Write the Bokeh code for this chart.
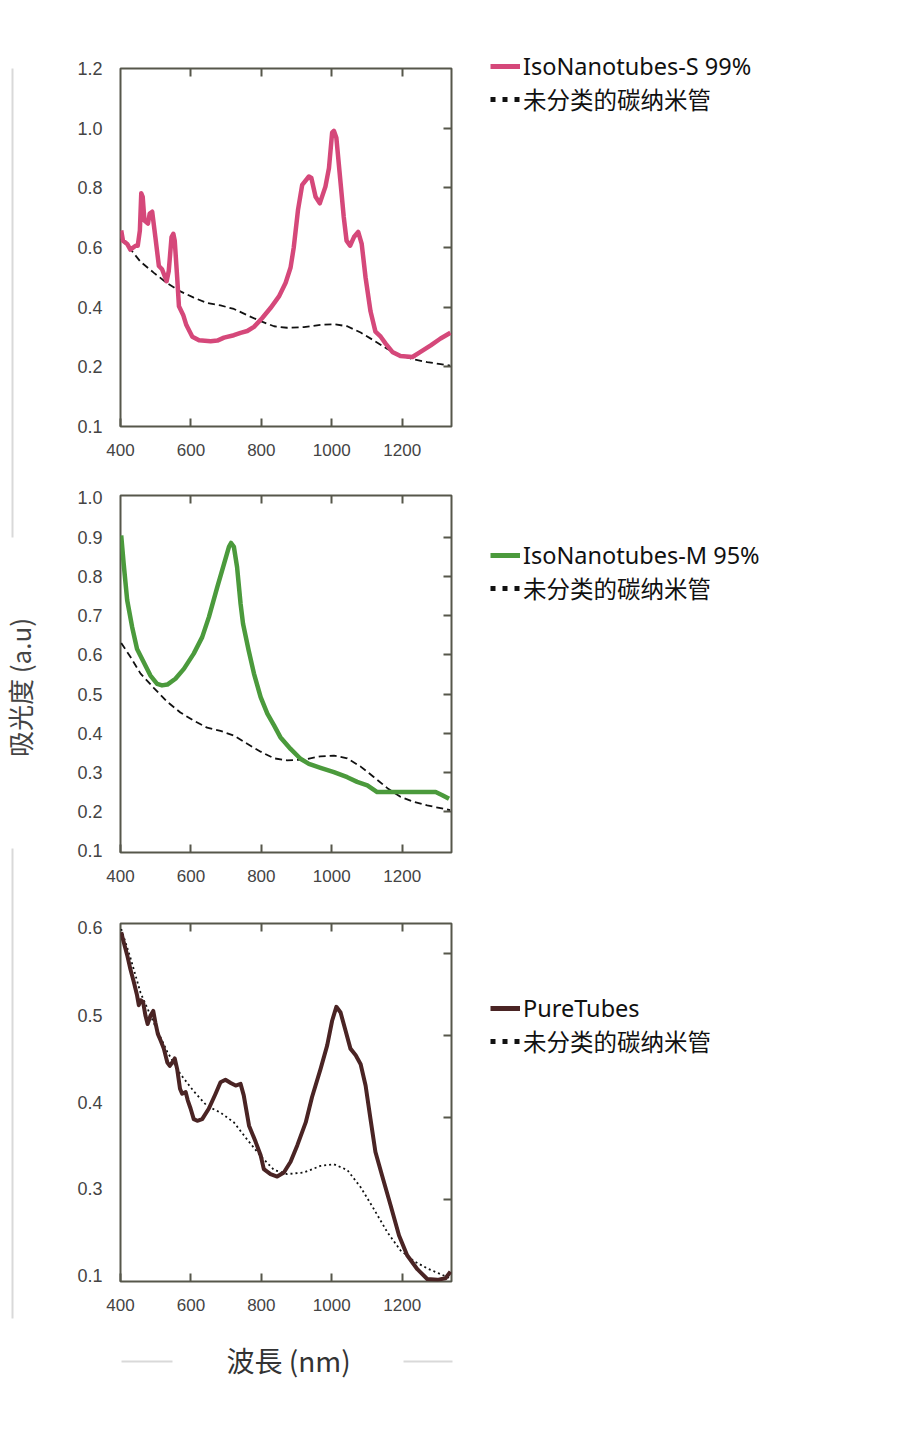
from math import pi
from bokeh.plotting import figure
from bokeh.models import Range1d, LinearAxis, FixedTicker, Legend, LegendItem, Label
from bokeh.layouts import row, column
from bokeh.embed import file_html
from bokeh.resources import INLINE

# spectra: wavelength (nm) / absorbance (a.u)
s99_nm = [402, 407, 419, 428, 443, 449, 455, 459, 463, 468, 478, 483, 490, 499, 509, 518, 531, 537, 545, 550,
          554, 561, 566, 578, 587, 604, 623, 656, 675, 694, 722, 741, 760, 779, 802, 826, 850, 869, 883, 892,
          904, 916, 935, 942, 954, 966, 982, 992, 1001, 1006, 1013, 1025, 1034, 1042, 1052, 1063, 1075, 1085, 1096, 1110,
          1124, 1139, 1153, 1172, 1195, 1229, 1252, 1281, 1309, 1337]
s99_abs = [0.657, 0.623, 0.612, 0.593, 0.606, 0.606, 0.657, 0.782, 0.770, 0.690, 0.680, 0.714, 0.720, 0.635, 0.538, 0.527, 0.487, 0.521, 0.635, 0.646,
           0.623, 0.499, 0.403, 0.374, 0.340, 0.301, 0.289, 0.286, 0.288, 0.298, 0.306, 0.314, 0.320, 0.334, 0.363, 0.397, 0.436, 0.482, 0.533, 0.600,
           0.725, 0.810, 0.838, 0.833, 0.770, 0.748, 0.804, 0.866, 0.985, 0.991, 0.968, 0.816, 0.702, 0.623, 0.606, 0.635, 0.652, 0.612, 0.499, 0.386,
           0.318, 0.301, 0.278, 0.250, 0.236, 0.233, 0.250, 0.272, 0.295, 0.314]

m95_nm = [402, 409, 419, 433, 447, 466, 485, 504, 518, 533, 556, 580, 608, 632, 651, 675, 694, 708, 714, 722,
          731, 741, 748, 764, 779, 798, 817, 836, 854, 883, 911, 935, 968, 1006, 1044, 1072, 1101, 1129, 1176, 1233,
          1295, 1314, 1333]
m95_abs = [0.904, 0.832, 0.739, 0.671, 0.615, 0.581, 0.547, 0.526, 0.522, 0.524, 0.539, 0.564, 0.603, 0.645, 0.696, 0.773, 0.832, 0.875, 0.885, 0.875,
           0.824, 0.730, 0.679, 0.611, 0.552, 0.492, 0.450, 0.420, 0.390, 0.360, 0.335, 0.322, 0.312, 0.301, 0.288, 0.276, 0.267, 0.250, 0.250, 0.250,
           0.250, 0.242, 0.233]

pure_nm = [402, 409, 419, 428, 438, 447, 452, 457, 464, 471, 477, 485, 493, 499, 506, 514, 523, 533, 540, 547,
           554, 561, 569, 575, 585, 591, 599, 608, 618, 632, 651, 670, 684, 698, 713, 727, 741, 750, 765, 784,
           798, 807, 826, 845, 864, 883, 902, 926, 944, 968, 987, 1001, 1013, 1025, 1039, 1053, 1068, 1082, 1096, 1110,
           1124, 1143, 1167, 1191, 1214, 1243, 1271, 1300, 1323, 1337]
pure_abs = [0.626, 0.614, 0.598, 0.581, 0.565, 0.549, 0.537, 0.543, 0.541, 0.524, 0.514, 0.524, 0.530, 0.516, 0.502, 0.494, 0.484, 0.467, 0.463, 0.467,
            0.472, 0.459, 0.435, 0.429, 0.431, 0.421, 0.411, 0.398, 0.396, 0.398, 0.411, 0.429, 0.443, 0.446, 0.442, 0.439, 0.441, 0.427, 0.390, 0.370,
            0.354, 0.337, 0.331, 0.328, 0.333, 0.346, 0.366, 0.394, 0.425, 0.459, 0.488, 0.518, 0.535, 0.528, 0.506, 0.484, 0.476, 0.465, 0.439, 0.398,
            0.358, 0.329, 0.293, 0.256, 0.232, 0.215, 0.203, 0.202, 0.204, 0.212]

unsorted_nm = [402, 428, 457, 495, 533, 570, 608, 646, 684, 722, 760, 798, 836, 873, 921, 968, 1006, 1044, 1082, 1120,
               1158, 1195, 1233, 1271, 1309, 1336]
unsorted_abs = [0.630, 0.595, 0.552, 0.515, 0.480, 0.453, 0.432, 0.414, 0.406, 0.394, 0.373, 0.353, 0.336, 0.331, 0.333, 0.341, 0.343, 0.336, 0.315, 0.288,
                0.260, 0.238, 0.225, 0.216, 0.209, 0.204]

x_ticks = [400, 600, 800, 1000, 1200]

# y tick labels as printed on each panel (the printed labels of panel 3 sit off its tick marks)
s99_label_pos = [0.0, 0.2, 0.4, 0.6, 0.8, 1.0, 1.2]
s99_label_txt = ["0.1", "0.2", "0.4", "0.6", "0.8", "1.0", "1.2"]
s99_marks = [0.2, 0.4, 0.6, 0.8, 1.0]
m95_label_pos = [0.1, 0.2, 0.3, 0.4, 0.5, 0.6, 0.7, 0.8, 0.9, 1.0]
m95_label_txt = ["0.1", "0.2", "0.3", "0.4", "0.5", "0.6", "0.7", "0.8", "0.9", "1.0"]
m95_marks = [0.2, 0.3, 0.4, 0.5, 0.6, 0.7, 0.8, 0.9]
pure_label_pos = [0.207, 0.313, 0.418, 0.524, 0.632]
pure_label_txt = ["0.1", "0.3", "0.4", "0.5", "0.6"]
pure_marks = [0.3, 0.4, 0.5, 0.6]

unsorted_name = "未分类的碳纳米管"

FRAME = "#56574b"
TICK_FONT = "Liberation Sans"
TEXT_FONT = "Noto Sans, Noto Sans CJK SC"
NAN = float("nan")


def style_axis(ax, tick_in, size="17px"):
    ax.axis_line_color = None
    ax.major_tick_line_color = FRAME
    ax.major_tick_line_width = 2
    ax.major_tick_in = tick_in
    ax.major_tick_out = 0
    ax.minor_tick_line_color = None
    ax.major_label_text_font = TICK_FONT
    ax.major_label_text_font_size = size
    ax.major_label_text_color = "#444444"


def blank(width, height, xr, yr):
    f = figure(width=width, height=height, x_range=Range1d(*xr), y_range=Range1d(*yr),
               output_backend="svg", toolbar_location=None, x_axis_location=None, y_axis_location=None,
               min_border_left=0, min_border_right=0, min_border_top=0, min_border_bottom=0)
    f.frame_align = False
    f.grid.visible = False
    f.outline_line_color = None
    return f


def panel(height, top, bottom, yr, label_pos, label_txt, marks, xs, ys, color, width, ref_dash):
    p = figure(width=420, height=height, x_range=Range1d(400, 1340), y_range=Range1d(*yr),
               output_backend="svg", toolbar_location=None,
               x_axis_location=None, y_axis_location=None,
               min_border_left=80, min_border_right=9, min_border_top=top, min_border_bottom=bottom)
    p.frame_align = False
    p.grid.visible = False
    p.outline_line_color = FRAME
    p.outline_line_width = 2

    below = LinearAxis(ticker=FixedTicker(ticks=x_ticks))
    style_axis(below, 8)
    below.major_label_standoff = 17
    p.add_layout(below, "below")

    above = LinearAxis(ticker=FixedTicker(ticks=x_ticks[1:]),
                       major_label_overrides={t: "" for t in x_ticks[1:]})
    style_axis(above, 8)
    p.add_layout(above, "above")

    left = LinearAxis(ticker=FixedTicker(ticks=label_pos),
                      major_label_overrides=dict(zip(label_pos, label_txt)))
    style_axis(left, 0, "18px")
    left.major_label_standoff = 18
    p.add_layout(left, "left")

    right = LinearAxis(ticker=FixedTicker(ticks=marks),
                       major_label_overrides={t: "" for t in marks})
    style_axis(right, 8)
    p.add_layout(right, "right")

    p.line(unsorted_nm, unsorted_abs, line_color="#111111", line_width=1.8, line_dash=ref_dash)
    p.line(xs, ys, line_color=color, line_width=width, line_join="round")
    return p


def legend_box(height, color, name, legend_y):
    f = blank(420, height, (0, 420), (0, height))
    # legend-only proxies (no visible data)
    k_main = f.line([NAN], [NAN], line_color=color, line_width=5)
    k_ref = f.line([NAN], [NAN], line_color="#111111", line_width=5, line_dash="5 7")
    legend = Legend(items=[LegendItem(label=name, renderers=[k_main]),
                           LegendItem(label=unsorted_name, renderers=[k_ref])],
                    location=(30, legend_y), padding=0, margin=0, spacing=0,
                    glyph_width=30, glyph_height=20, label_height=20, label_standoff=3,
                    border_line_color=None, background_fill_alpha=0,
                    label_text_font=TEXT_FONT, label_text_font_size="23.5px", label_text_color="#111111")
    f.add_layout(legend, "center")
    return f


p1 = panel(468, 68, 42, (0.0, 1.2), s99_label_pos, s99_label_txt, s99_marks,
           s99_nm, s99_abs, "#d5487a", 4.5, "7 4")
p2 = panel(427, 27, 43, (0.096, 1.006), m95_label_pos, m95_label_txt, m95_marks,
           m95_nm, m95_abs, "#4b9a3c", 4.5, "7 4")
p3 = panel(426, 28, 40, (0.2, 0.6366), pure_label_pos, pure_label_txt, pure_marks,
           pure_nm, pure_abs, "#4a2424", 4, "2 3")

l1 = legend_box(468, "#d5487a", "IsoNanotubes-S 99%", 352)
l2 = legend_box(427, "#4b9a3c", "IsoNanotubes-M 95%", 290)
l3 = legend_box(426, "#4a2424", "PureTubes", 263)

# shared y label on the left (page pixel coordinates)
side = blank(40, 1400, (0, 40), (1400, 0))
side.segment(x0=[12, 12], y0=[68, 848], x1=[12, 12], y1=[537, 1318], line_color="#d9d9d9", line_width=2)
side.add_layout(Label(x=19, y=687, text="吸光度 (a.u)", angle=pi / 2, text_align="center",
                      text_baseline="middle", text_font="Noto Sans CJK SC", text_font_size="26px",
                      text_color="#444444"))

# shared x label at the bottom
foot = blank(420, 79, (40, 460), (1400, 1321))
foot.segment(x0=[121, 403], y0=[1361, 1361], x1=[172, 452], y1=[1361, 1361], line_color="#d9d9d9", line_width=2)
foot.add_layout(Label(x=288, y=1359, text="波長 (nm)", text_align="center", text_baseline="middle",
                      text_font="Noto Sans CJK SC", text_font_size="28px", text_color="#333333"))

layout = row(side, column(row(p1, l1), row(p2, l2), row(p3, l3), foot))

open("out.html", "w").write(file_html(layout, INLINE))
